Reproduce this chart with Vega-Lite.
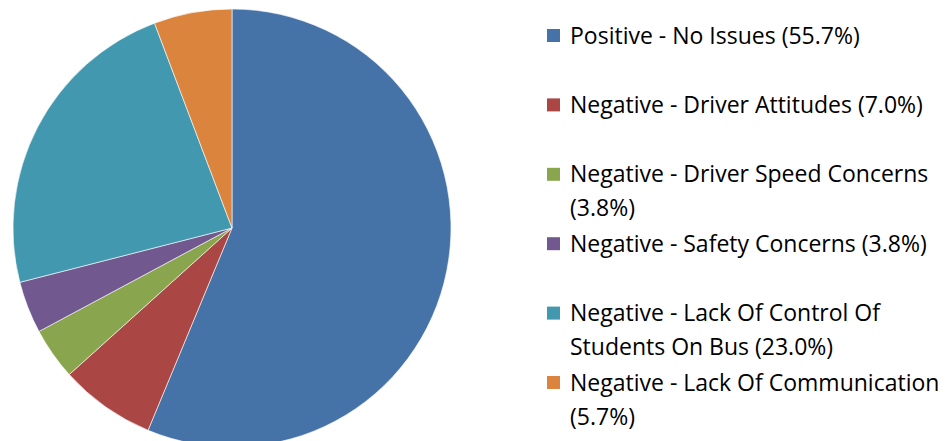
{
  "$schema": "https://vega.github.io/schema/vega-lite/v6.json",
  "width": 464,
  "height": 456,
  "padding": 0,
  "background": "white",
  "config": {
    "view": {"stroke": null},
    "style": {"guide-label": {"lineHeight": 34, "dy": 8}}
  },
  "data": {
    "values": [
      {"order": 1, "category": "Positive - No Issues (55.7%)", "value": 55.7},
      {"order": 2, "category": "Negative - Driver Attitudes (7.0%)", "value": 7.0},
      {"order": 3, "category": "Negative - Driver Speed Concerns\n(3.8%)", "value": 3.8},
      {"order": 4, "category": "Negative - Safety Concerns (3.8%)", "value": 3.8},
      {"order": 5, "category": "Negative - Lack Of Control Of\nStudents On Bus (23.0%)", "value": 23.0},
      {"order": 6, "category": "Negative - Lack Of Communication\n(5.7%)", "value": 5.7}
    ]
  },
  "mark": {"type": "arc", "outerRadius": 219, "stroke": "#ffffff", "strokeWidth": 0.6},
  "encoding": {
    "theta": {"field": "value", "type": "quantitative", "stack": true},
    "order": {"field": "order", "type": "quantitative"},
    "color": {
      "field": "category",
      "type": "nominal",
      "sort": null,
      "scale": {"range": ["#4572A7", "#AA4643", "#89A54E", "#71588F", "#4198AF", "#DB843D"]},
      "legend": {
        "title": null,
        "orient": "none",
        "legendX": 542,
        "legendY": 24,
        "symbolType": "square",
        "symbolSize": 169,
        "symbolStrokeWidth": 0,
        "labelFont": "Open Sans",
        "labelFontSize": 23,
        "labelColor": "#000000",
        "labelLimit": 500,
        "labelOffset": 5,
        "labelBaseline": "alphabetic",
        "gridAlign": "all",
        "rowPadding": 10.4,
        "labelExpr": "split(datum.label, '\\n')"
      }
    }
  }
}
